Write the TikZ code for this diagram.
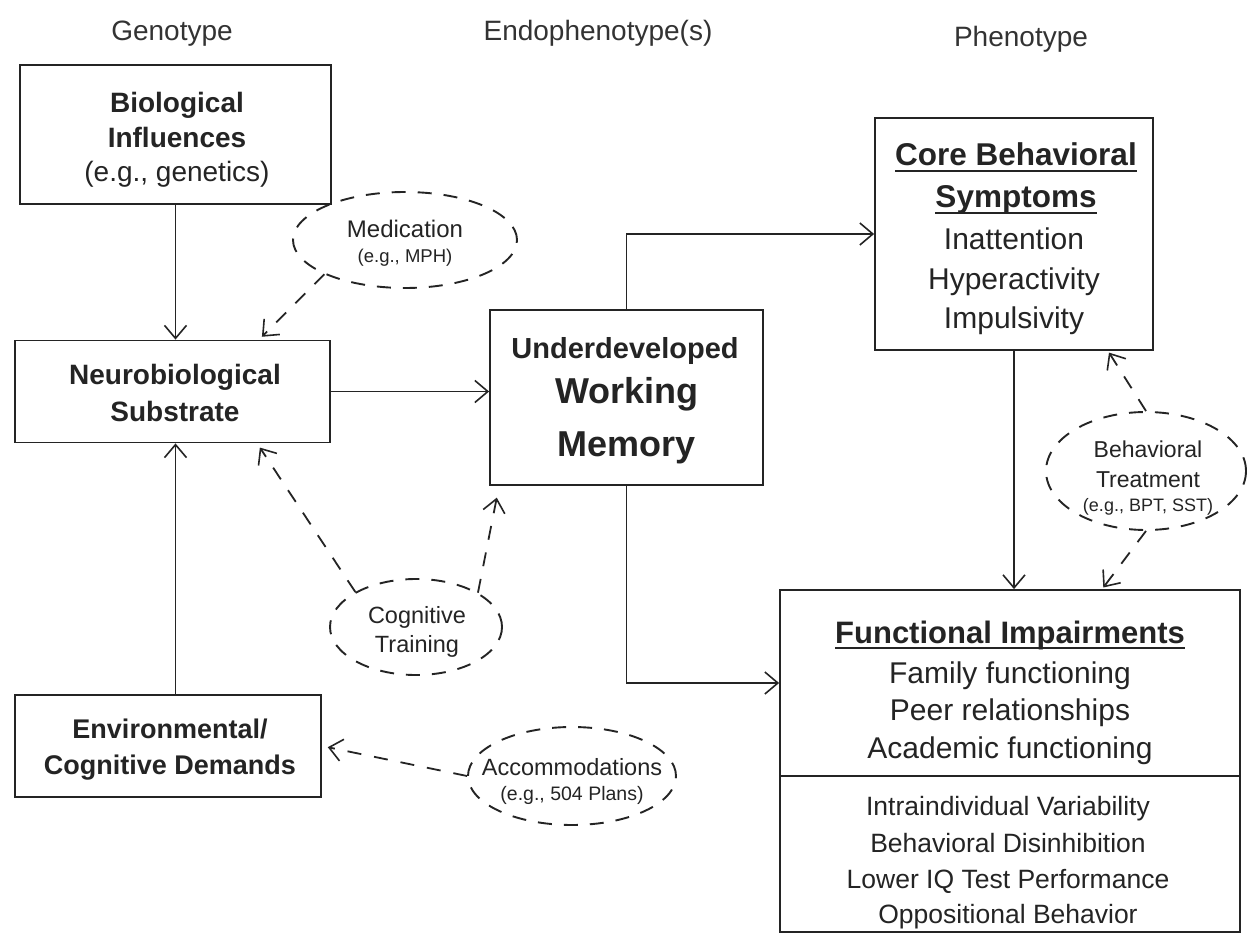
\documentclass[tikz,border=0pt]{standalone}
\usepackage{fontspec}
\setmainfont{Liberation Sans}
\usetikzlibrary{arrows.meta,shapes.geometric,calc}
\definecolor{ink}{HTML}{242424}
\definecolor{soft}{HTML}{333333}
\newcommand{\fs}[1]{\fontsize{#1}{#1}\selectfont}
\newcommand{\ulx}[1]{\setbox0\hbox{#1}\rlap{\rule[-6pt]{\wd0}{1.8pt}}\box0}
\begin{document}
\begin{tikzpicture}[x=1pt,y=-1pt,
  box/.style={draw=ink, line width=1.8pt, inner sep=0pt},
  oval/.style={ellipse, draw=ink, dash pattern=on 14pt off 12pt, line width=1.9pt, inner sep=0pt},
  arr/.style={draw=ink, line width=1.5pt, -{Straight Barb[length=13pt,width=22pt,line width=1.6pt]}},
  darr/.style={arr, line width=1.8pt, dash pattern=on 14pt off 13pt},
  t/.style={anchor=base, text=ink, inner sep=0pt},
  hd/.style={anchor=base, text=soft, inner sep=0pt, font=\fs{28}}
  ]
\useasboundingbox[fill=white] (0,0) rectangle (1248,936);

% headers
\node[hd] (hg) at (172,41) {Genotype};
\node[hd] (he) at (598,41) {Endophenotype(s)};
\node[hd] (hp) at (1021,47) {Phenotype};

% boxes
\node[box, minimum width=311pt, minimum height=139pt] (bio) at (175.5,134.5) {};
\node[box, minimum width=315pt, minimum height=102pt] (neuro) at (172.5,391.5) {};
\node[box, minimum width=306pt, minimum height=102pt] (env) at (168,746) {};
\node[box, minimum width=273pt, minimum height=175pt] (wm) at (626.5,397.5) {};
\node[box, minimum width=278pt, minimum height=232pt] (core) at (1014,234) {};
\node[box, minimum width=460pt, minimum height=186pt] (fup) at (1010,683) {};
\node[box, minimum width=460pt, minimum height=156pt] (flow) at (1010,854) {};

% box texts
\node[t, font=\fs{28}\bfseries] (bio1) at (177,113) {Biological};
\node[t, font=\fs{28}\bfseries] (bio2) at (177,148) {Influences};
\node[t, font=\fs{28}] (bio3) at (177,182) {(e.g., genetics)};

\node[t, font=\fs{28}\bfseries] (neu1) at (175,384) {Neurobiological};
\node[t, font=\fs{28}\bfseries] (neu2) at (175,421) {Substrate};

\node[t, font=\fs{27}\bfseries] (env1) at (170,738) {Environmental/};
\node[t, font=\fs{27}\bfseries] (env2) at (170,774) {Cognitive Demands};

\node[t, font=\fs{29}\bfseries] (wm1) at (625,358) {Underdeveloped};
\node[t, font=\fs{36}\bfseries] (wm2) at (627,403) {Working};
\node[t, font=\fs{36}\bfseries] (wm3) at (627,456) {Memory};

\node[t, font=\fs{31.5}\bfseries] (cor1) at (1016,166) {\ulx{Core Behavioral}};
\node[t, font=\fs{31.5}\bfseries] (cor2) at (1016,208) {\ulx{Symptoms}};
\node[t, font=\fs{30}] (cor3) at (1014,250) {Inattention};
\node[t, font=\fs{30}] (cor4) at (1014,289) {Hyperactivity};
\node[t, font=\fs{30}] (cor5) at (1014,328) {Impulsivity};

\node[t, font=\fs{31}\bfseries] (fun1) at (1010,643) {\ulx{Functional Impairments}};
\node[t, font=\fs{30}] (fun2) at (1010,683) {Family functioning};
\node[t, font=\fs{30}] (fun3) at (1010,720) {Peer relationships};
\node[t, font=\fs{30}] (fun4) at (1010,758) {Academic functioning};

\node[t, font=\fs{26.5}] (low1) at (1008,815) {Intraindividual Variability};
\node[t, font=\fs{26.5}] (low2) at (1008,852) {Behavioral Disinhibition};
\node[t, font=\fs{26.5}] (low3) at (1008,888) {Lower IQ Test Performance};
\node[t, font=\fs{26.5}] (low4) at (1008,923) {Oppositional Behavior};

% ovals
\node[oval, minimum width=224pt, minimum height=96pt] (med) at (405,240) {};
\node[oval, minimum width=172pt, minimum height=96pt] (cog) at (416,627) {};
\node[oval, minimum width=208pt, minimum height=98pt] (acc) at (572,776) {};
\node[oval, minimum width=200pt, minimum height=118pt] (beh) at (1146,471) {};

% oval texts
\node[t, font=\fs{24}] (med1) at (405,238) {Medication};
\node[t, font=\fs{18.5}] (med2) at (405,262) {(e.g., MPH)};
\node[t, font=\fs{23.5}] (cog1) at (417,623) {Cognitive};
\node[t, font=\fs{23.5}] (cog2) at (417,652) {Training};
\node[t, font=\fs{23.5}] (acc1) at (572,775) {Accommodations};
\node[t, font=\fs{19.5}] (acc2) at (572,800) {(e.g., 504 Plans)};
\node[t, font=\fs{23}] (beh1) at (1148,457) {Behavioral};
\node[t, font=\fs{23}] (beh2) at (1148,487) {Treatment};
\node[t, font=\fs{18}] (beh3) at (1148,511) {(e.g., BPT, SST)};

% solid arrows
\draw[arr] (bio.south) -- (bio.south |- neuro.north);
\draw[arr] (env.north -| bio.south) -- (neuro.south -| bio.south);
\draw[arr] (neuro.east) -- (neuro.east -| wm.west);
\draw[arr] (wm.north) |- (core.west);
\draw[arr] (wm.south) |- (fup.west);
\draw[arr] (core.south) -- (core.south |- fup.north);

% dashed arrows
\draw[darr, shorten >=4pt] (med.203) -- ($(neuro.north west)+(245,0)$);
\draw[darr, shorten >=5pt] (cog.150) -- ($(neuro.south west)+(243,0)$);
\draw[darr, shorten >=12pt] (cog.29) -- ($(wm.south west)+(10,0)$);
\draw[darr, shorten >=6pt] (acc.west) -- (env.east);
\draw[darr, shorten >=2pt] (beh.north) -- ($(core.south east)+(-46,0)$);
\draw[darr, shorten >=2pt] (beh.south) -- ($(fup.north west)+(323,0)$);
\end{tikzpicture}
\end{document}
